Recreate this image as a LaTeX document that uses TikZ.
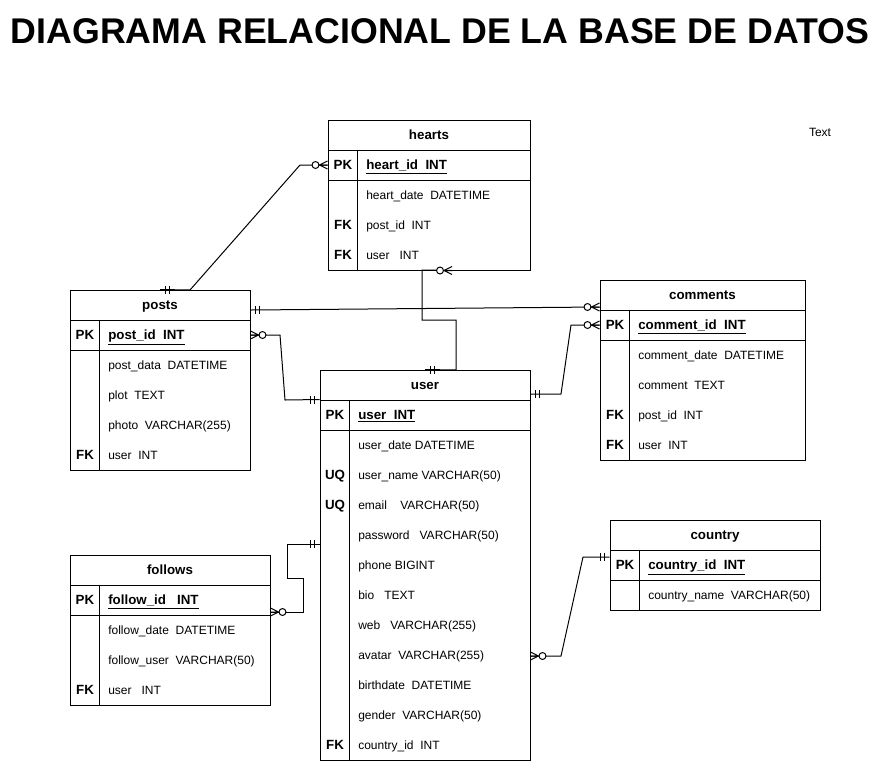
\documentclass[tikz,border=0pt]{standalone}
\usepackage{fontspec}
\setmainfont{Liberation Sans}
\usetikzlibrary{calc}
\tikzstyle{thead}=[draw=black,line width=0.75pt,font=\bfseries,inner sep=0pt,
  minimum height=22.5pt,text height=6.5pt,text depth=0pt]
\tikzstyle{trow}=[draw=black,line width=0.75pt,inner sep=0pt]
\tikzstyle{tkey}=[font=\bfseries,inner sep=0pt,text height=6.5pt,text depth=0pt]
\tikzstyle{tfield}=[anchor=west,inner sep=0pt,text height=6.5pt,text depth=0pt]
\tikzstyle{tpk}=[tfield,font=\bfseries]
\tikzstyle{conn}=[line width=0.75pt]
\tikzset{
  mandone/.pic={\draw[line width=0.75pt] (5,-4) -- (5,4) (9,-4) -- (9,4);},
  zeromany/.pic={\draw[line width=0.75pt] (0,-4) -- (8,0) -- (0,4) (0,0) -- (8,0);
    \draw[line width=0.75pt,fill=white] (12,0) circle[radius=2.6pt];}
}

\begin{document}
\begin{tikzpicture}[x=0.75pt,y=-0.75pt,font=\fontsize{9pt}{11pt}\selectfont]
    \useasboundingbox (0,0) rectangle (880,761);
    \node[anchor=base,font=\fontsize{26.8pt}{30pt}\selectfont\bfseries] (title) at (440,43) {DIAGRAMA RELACIONAL DE LA BASE DE DATOS};
    \node (note) at (820,132) {Text};

    % hearts
    \node[thead,minimum width=151.5pt] (hearts) at (429,135) {hearts};
    \node[trow,minimum width=151.5pt,minimum height=22.5pt] (hearts-pk) at (429,165) {};
    \node[trow,minimum width=151.5pt,minimum height=67.5pt] (hearts-body) at (429,225) {};
    \draw[conn] ([xshift=22.5pt]hearts-pk.north west) -- ([xshift=22.5pt]hearts-body.south west);
    \node[tkey] (hearts-k1) at (343,165) {PK};
    \node[tkey] (hearts-k3) at (343,225) {FK};
    \node[tkey] (hearts-k4) at (343,255) {FK};
    \node[tpk] (hearts-f1) at (366,165) {\underline{heart\_id\ \ INT}};
    \node[tfield] (hearts-f2) at (366,195) {heart\_date\ \ DATETIME};
    \node[tfield] (hearts-f3) at (366,225) {post\_id\ \ INT};
    \node[tfield] (hearts-f4) at (366,255) {user\ \ \ INT};

    % posts
    \node[thead,minimum width=135pt] (posts) at (160,305) {posts};
    \node[trow,minimum width=135pt,minimum height=22.5pt] (posts-pk) at (160,335) {};
    \node[trow,minimum width=135pt,minimum height=90pt] (posts-body) at (160,410) {};
    \draw[conn] ([xshift=22.5pt]posts-pk.north west) -- ([xshift=22.5pt]posts-body.south west);
    \node[tkey] (posts-k1) at (85,335) {PK};
    \node[tkey] (posts-k5) at (85,455) {FK};
    \node[tpk] (posts-f1) at (108,335) {\underline{post\_id\ \ INT}};
    \node[tfield] (posts-f2) at (108,365) {post\_data\ \ DATETIME};
    \node[tfield] (posts-f3) at (108,395) {plot\ \ TEXT};
    \node[tfield] (posts-f4) at (108,425) {photo\ \ VARCHAR(255)};
    \node[tfield] (posts-f5) at (108,455) {user\ \ INT};

    % comments
    \node[thead,minimum width=153.75pt] (comments) at (702.5,295) {comments};
    \node[trow,minimum width=153.75pt,minimum height=22.5pt] (comments-pk) at (702.5,325) {};
    \node[trow,minimum width=153.75pt,minimum height=90pt] (comments-body) at (702.5,400) {};
    \draw[conn] ([xshift=22.5pt]comments-pk.north west) -- ([xshift=22.5pt]comments-body.south west);
    \node[tkey] (comments-k1) at (615,325) {PK};
    \node[tkey] (comments-k4) at (615,415) {FK};
    \node[tkey] (comments-k5) at (615,445) {FK};
    \node[tpk] (comments-f1) at (638,325) {\underline{comment\_id\ \ INT}};
    \node[tfield] (comments-f2) at (638,355) {comment\_date\ \ DATETIME};
    \node[tfield] (comments-f3) at (638,385) {comment\ \ TEXT};
    \node[tfield] (comments-f4) at (638,415) {post\_id\ \ INT};
    \node[tfield] (comments-f5) at (638,445) {user\ \ INT};

    % user
    \node[thead,minimum width=157.5pt] (user) at (425,385) {user};
    \node[trow,minimum width=157.5pt,minimum height=22.5pt] (user-pk) at (425,415) {};
    \node[trow,minimum width=157.5pt,minimum height=247.5pt] (user-body) at (425,595) {};
    \draw[conn] ([xshift=22.5pt]user-pk.north west) -- ([xshift=22.5pt]user-body.south west);
    \node[tkey] (user-k1) at (335,415) {PK};
    \node[tkey] (user-k3) at (335,475) {UQ};
    \node[tkey] (user-k4) at (335,505) {UQ};
    \node[tkey] (user-k12) at (335,745) {FK};
    \node[tpk] (user-f1) at (358,415) {\underline{user\ \ INT}};
    \node[tfield] (user-f2) at (358,445) {user\_date DATETIME};
    \node[tfield] (user-f3) at (358,475) {user\_name VARCHAR(50)};
    \node[tfield] (user-f4) at (358,505) {email\ \ \ \ VARCHAR(50)};
    \node[tfield] (user-f5) at (358,535) {password\ \ \ VARCHAR(50)};
    \node[tfield] (user-f6) at (358,565) {phone BIGINT};
    \node[tfield] (user-f7) at (358,595) {bio\ \ \ TEXT};
    \node[tfield] (user-f8) at (358,625) {web\ \ \ VARCHAR(255)};
    \node[tfield] (user-f9) at (358,655) {avatar\ \ VARCHAR(255)};
    \node[tfield] (user-f10) at (358,685) {birthdate\ \ DATETIME};
    \node[tfield] (user-f11) at (358,715) {gender\ \ VARCHAR(50)};
    \node[tfield] (user-f12) at (358,745) {country\_id\ \ INT};

    % follows
    \node[thead,minimum width=150pt] (follows) at (170,570) {follows};
    \node[trow,minimum width=150pt,minimum height=22.5pt] (follows-pk) at (170,600) {};
    \node[trow,minimum width=150pt,minimum height=67.5pt] (follows-body) at (170,660) {};
    \draw[conn] ([xshift=22.5pt]follows-pk.north west) -- ([xshift=22.5pt]follows-body.south west);
    \node[tkey] (follows-k1) at (85,600) {PK};
    \node[tkey] (follows-k4) at (85,690) {FK};
    \node[tpk] (follows-f1) at (108,600) {\underline{follow\_id\ \ \ INT}};
    \node[tfield] (follows-f2) at (108,630) {follow\_date\ \ DATETIME};
    \node[tfield] (follows-f3) at (108,660) {follow\_user\ \ VARCHAR(50)};
    \node[tfield] (follows-f4) at (108,690) {user\ \ \ INT};

    % country
    \node[thead,minimum width=157.5pt] (country) at (715,535) {country};
    \node[trow,minimum width=157.5pt,minimum height=22.5pt] (country-pk) at (715,565) {};
    \node[trow,minimum width=157.5pt,minimum height=22.5pt] (country-body) at (715,595) {};
    \draw[conn] ([xshift=22.5pt]country-pk.north west) -- ([xshift=22.5pt]country-body.south west);
    \node[tkey] (country-k1) at (625,565) {PK};
    \node[tpk] (country-f1) at (648,565) {\underline{country\_id\ \ INT}};
    \node[tfield] (country-f2) at (648,595) {country\_name\ \ VARCHAR(50)};

    % relations
    \draw[conn] (posts.north) -- (190,290) -- (300,165) -- (hearts-pk.west);
    \draw[conn] ([yshift=-3.75pt]posts.east) -- ([yshift=-9pt]comments.west);
    \draw[conn] (posts-pk.east) -- (280,335) -- (285,400) -- (user-pk.north west);
    \draw[conn] (user.north) -- (456,370) -- (456,320) -- (422,320) -- (422,270) -- ([xshift=17.25pt]hearts-body.south);
    \draw[conn] ([yshift=-6.75pt]user.east) -- (561,394) -- (571,325) -- (comments-pk.west);
    \draw[conn] ([yshift=-9pt]follows-pk.east) -- (303,612) -- (303,578) -- (287,578) -- (287,544) -- ([yshift=38.25pt]user-body.west);
    \draw[conn] ([yshift=-45.75pt]user-body.east) -- (561,656) -- (583,557) -- ([yshift=6pt]country-pk.west);

    \pic at (posts.north) {mandone};
    \pic[rotate=180] at (hearts-pk.west) {zeromany};
    \pic at ([yshift=-3.75pt]posts.east) {mandone};
    \pic[rotate=180] at ([yshift=-9pt]comments.west) {zeromany};
    \pic at (posts-pk.east) {zeromany};
    \pic[rotate=180] at (user-pk.north west) {mandone};
    \pic at (user.north) {mandone};
    \pic[rotate=180] at ([xshift=17.25pt]hearts-body.south) {zeromany};
    \pic at ([yshift=-6.75pt]user.east) {mandone};
    \pic[rotate=180] at (comments-pk.west) {zeromany};
    \pic at ([yshift=-9pt]follows-pk.east) {zeromany};
    \pic[rotate=180] at ([yshift=38.25pt]user-body.west) {mandone};
    \pic at ([yshift=-45.75pt]user-body.east) {zeromany};
    \pic[rotate=180] at ([yshift=6pt]country-pk.west) {mandone};
\end{tikzpicture}
\end{document}
